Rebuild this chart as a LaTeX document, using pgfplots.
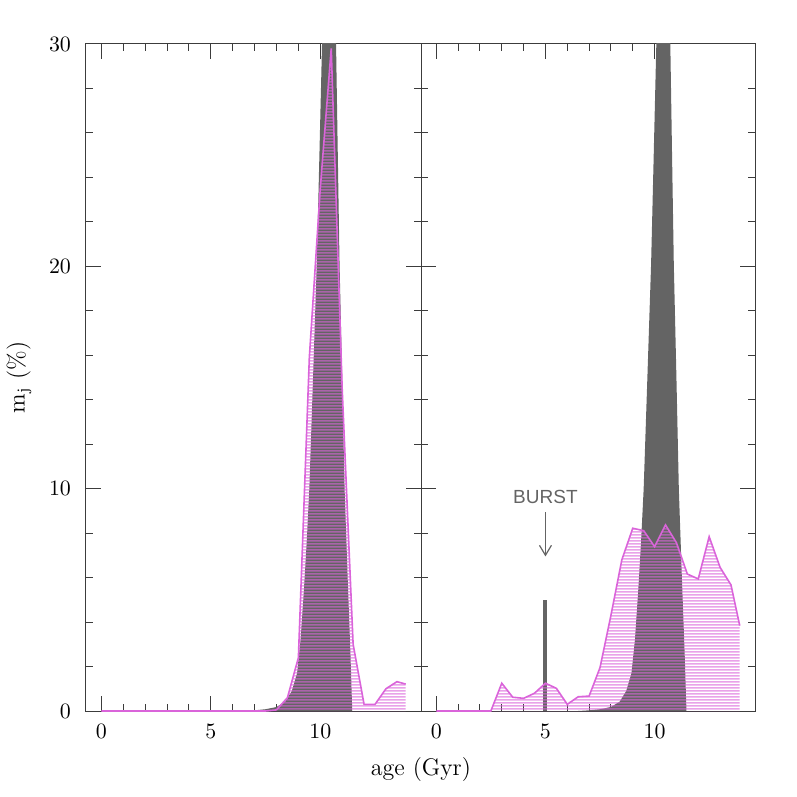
\documentclass[border=0pt]{standalone}
\usepackage{fontspec}
\usepackage{pgfplots}
\pgfplotsset{compat=1.18}
\usetikzlibrary{arrows.meta, patterns}
\newfontfamily\burstfont{Liberation Sans}

\definecolor{sfhgrey}{RGB}{100,100,100}
\definecolor{fitpink}{RGB}{218,100,218}
\definecolor{axisgrey}{RGB}{60,60,60}

% wide tile so the rasteriser leaves few seams
\pgfdeclarepatternformonly{hlines}{\pgfpoint{0pt}{0pt}}{\pgfpoint{120pt}{1.5pt}}{\pgfpoint{120pt}{1.5pt}}{
  \pgfsetlinewidth{0.9pt}
  \pgfpathmoveto{\pgfpoint{-2pt}{0.75pt}}
  \pgfpathlineto{\pgfpoint{122pt}{0.75pt}}
  \pgfusepath{stroke}
}

% true SFH (same in both panels), clipped at the top of the axis
\pgfplotstableread{
age  m
0     0
6.5   0
7.0   0.03
7.5   0.08
8.0   0.18
8.4   0.42
8.7   0.9
8.94  1.7
9.1   3.2
9.25  5.4
9.38  7.6
9.5   10.0
9.67  15.0
9.84  20.1
9.96  25.0
10.08 30.0
10.4  44.0
10.72 30.0
10.8  25.0
10.88 20.1
11.0  15.0
11.11 10.0
11.25 6.0
11.38 2.5
11.44 0.6
11.46 0
}\truesfh

% recovered SFH, left panel
\pgfplotstableread{
age  m
0    0
7.5  0
8.0  0.05
8.5  0.6
9.0  2.4
9.5  15.9
10.0 23.5
10.5 29.8
11.0 14.5
11.5 3.0
12.0 0.3
12.5 0.3
13.0 1.0
13.5 1.32
13.9 1.21
}\fitleft

% recovered SFH, right panel (burst model)
\pgfplotstableread{
age  m
0    0
2.5  0
3.0  1.25
3.5  0.62
4.0  0.57
4.5  0.8
5.0  1.25
5.5  1.02
6.0  0.3
6.5  0.64
7.0  0.67
7.5  1.95
8.0  4.3
8.5  6.8
9.0  8.22
9.5  8.11
10.0 7.39
10.5 8.37
11.0 7.57
11.5 6.16
12.0 5.94
12.5 7.84
13.0 6.46
13.5 5.67
13.9 3.84
}\fitright

\pgfplotsset{
  panel/.style={
    scale only axis, height=333.5pt,
    xmin=-0.7, xmax=14.6, ymin=0, ymax=30,
    xtick={0,5,10}, ytick={0,10,20,30},
    minor x tick num=4, minor y tick num=4,
    tick align=inside, major tick length=7.5pt, minor tick length=3.5pt,
    axis line style={axisgrey, line width=0.5pt},
    every tick/.style={axisgrey, line width=0.5pt},
    tick label style={font=\fontsize{11}{13}\selectfont},
    xticklabel style={yshift=-3pt},
    yticklabel style={xshift=-4pt},
  },
  hatch/.style={draw=none, pattern=hlines, pattern color=fitpink, fill opacity=0.6},
}

\begin{document}
\begin{tikzpicture}
\path[use as bounding box] (-43pt,-43pt) rectangle (355.5pt,355.5pt);

\begin{axis}[panel, width=167.5pt, at={(0,0)}, anchor=south west,
  ylabel={m$_\mathrm{j}$ (\%)},
  ylabel style={font=\fontsize{12}{14}\selectfont, at={(axis description cs:-0.2,0.5)}, anchor=center}]
\addplot[fill=sfhgrey, draw=none] table[x=age, y=m] {\truesfh} \closedcycle;
\addplot[hatch] table[x=age, y=m] {\fitleft} \closedcycle;
\addplot[fitpink, line width=0.8pt] table[x=age, y=m] {\fitleft};
\end{axis}

\begin{axis}[panel, width=167pt, at={(167.5pt,0)}, anchor=south west,
  yticklabels={}]
\addplot[fill=sfhgrey, draw=none] table[x=age, y=m] {\truesfh} \closedcycle;
\addplot[sfhgrey, line width=2pt] coordinates {(5,0) (5,5)};
\addplot[hatch] table[x=age, y=m] {\fitright} \closedcycle;
\addplot[fitpink, line width=0.8pt] table[x=age, y=m] {\fitright};
\node[font=\burstfont\fontsize{9.5}{11}\selectfont, text=sfhgrey] at (axis cs:5,9.63) {BURST};
\draw[sfhgrey, line width=0.6pt, -{Straight Barb[length=5pt, width=6pt]}] (axis cs:5,8.95) -- (axis cs:5,6.95);
\end{axis}

\node[font=\fontsize{12}{14}\selectfont] at (167.5pt,-29.5pt) {age (Gyr)};
\end{tikzpicture}
\end{document}
